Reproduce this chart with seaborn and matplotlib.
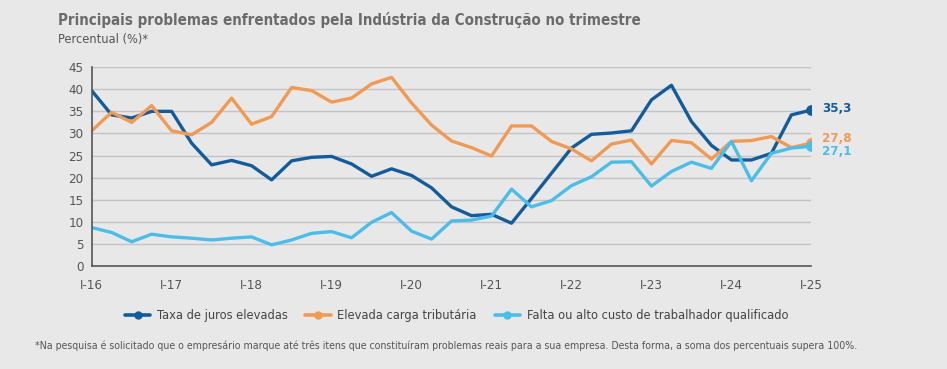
import matplotlib
matplotlib.use("Agg")
import matplotlib.pyplot as plt
import seaborn as sns
import pandas as pd
import numpy as np
from matplotlib.lines import Line2D

# ---- data ----
years = ["I-16", "I-17", "I-18", "I-19", "I-20", "I-21", "I-22", "I-23", "I-24", "I-25"]
quarters = list(range(37))

juros = [39.7, 34.2, 33.5, 35.0, 35.0, 27.8, 22.9, 23.9, 22.7, 19.5,
         23.8, 24.6, 24.8, 23.1, 20.3, 22.0, 20.5, 17.7, 13.4, 11.4,
         11.7, 9.7, 15.3, 21.0, 26.7, 29.8, 30.1, 30.6, 37.6, 40.9,
         32.7, 27.3, 24.0, 24.0, 25.5, 34.2, 35.3]
tributaria = [30.6, 34.8, 32.5, 36.3, 30.6, 29.7, 32.5, 38.0, 32.1, 33.8,
              40.4, 39.7, 37.1, 38.0, 41.2, 42.7, 36.9, 31.9, 28.3, 26.8,
              24.9, 31.7, 31.7, 28.2, 26.5, 23.8, 27.6, 28.5, 23.1, 28.4,
              27.9, 24.2, 28.2, 28.4, 29.3, 26.8, 27.8]
trabalhador = [8.7, 7.6, 5.5, 7.2, 6.6, 6.3, 5.9, 6.3, 6.6, 4.8,
               5.9, 7.4, 7.8, 6.4, 9.9, 12.1, 7.9, 6.1, 10.2, 10.4,
               11.3, 17.4, 13.4, 14.8, 18.2, 20.2, 23.5, 23.6, 18.1, 21.4,
               23.5, 22.1, 28.2, 19.3, 25.5, 26.7, 27.1]
series_names = ["Taxa de juros elevadas", "Elevada carga tributária",
                "Falta ou alto custo de trabalhador qualificado"]
end_labels = ["35,3", "27,8", "27,1"]
colors = ["#135c9c", "#f19a54", "#4bbde9"]

df = pd.concat([
    pd.DataFrame({"q": quarters, "valor": vals, "serie": name})
    for name, vals in zip(series_names, [juros, tributaria, trabalhador])
])

# ---- style ----
bg = "#e8e8e9"
sns.set_style("white")
plt.rcParams["font.family"] = ["DejaVu Sans"]
plt.rcParams["font.stretch"] = "condensed"

fig = plt.figure(figsize=(9.47, 3.69), dpi=100, facecolor=bg)
ax = fig.add_axes([0.0968, 0.279, 0.760, 0.539], facecolor=bg)

sns.lineplot(data=df, x="q", y="valor", hue="serie", palette=colors,
             hue_order=series_names, linewidth=2.4, ax=ax, legend=False)

# end markers and labels
for vals, lab, c, dy in zip([juros, tributaria, trabalhador], end_labels, colors, [0.3, 1.0, -1.1]):
    ax.scatter([quarters[-1]], [vals[-1]], s=45, color=c, zorder=5)
    ax.text(quarters[-1] + 0.55, vals[-1] + dy, lab, color=c, fontsize=9.5,
            fontweight="bold", va="center", ha="left")

ax.set_xlim(0, 36)
ax.set_ylim(0, 45)
ax.set_yticks(np.arange(0, 46, 5))
ax.set_xticks(np.arange(0, 37, 4))
ax.set_xticklabels(years)
ax.yaxis.grid(True, color="#c4c4c6", linewidth=1.0)
ax.set_axisbelow(True)
for s in ["top", "right"]:
    ax.spines[s].set_visible(False)
for s in ["left", "bottom"]:
    ax.spines[s].set_color("#555555")
    ax.spines[s].set_linewidth(1.2)
ax.tick_params(axis="x", direction="out", length=4, colors="#555555",
               labelcolor="#555555", labelsize=9.5, pad=5)
ax.tick_params(axis="y", direction="in", length=0, labelcolor="#555555",
               labelsize=9.5, pad=6)
ax.set_xlabel("")
ax.set_ylabel("")

# title
fig.text(0.061, 0.945, "Principais problemas enfrentados pela Indústria da Construção no trimestre",
         fontsize=10.8, fontweight="bold", color="#6b6b6b", va="center", ha="left")
fig.text(0.061, 0.893, "Percentual (%)*", fontsize=9.2, color="#555555",
         va="center", ha="left")

# legend
handles = [Line2D([0], [0], color=c, linewidth=2.6, marker="o", markersize=5)
           for c in colors]
fig.legend(handles, series_names, loc="center", bbox_to_anchor=(0.482, 0.145),
           ncol=3, frameon=False, fontsize=9.2, handlelength=2.0,
           columnspacing=1.4, handletextpad=0.5, labelcolor="#444444")

fig.text(0.037, 0.063,
         "*Na pesquisa é solicitado que o empresário marque até três itens que constituíram problemas reais para a sua empresa. Desta forma, a soma dos percentuais supera 100%.",
         fontsize=7.6, color="#555555", va="center", ha="left")

fig.savefig("out.png", dpi=100, facecolor=bg)
